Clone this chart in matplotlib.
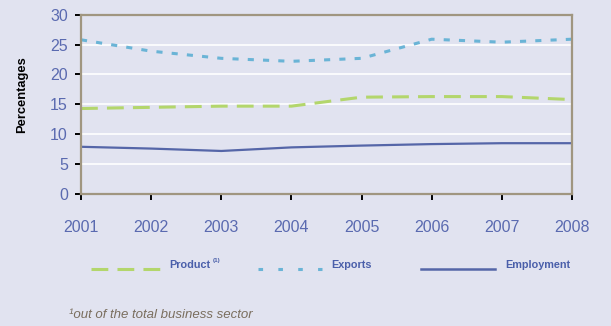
import matplotlib.pyplot as plt
from matplotlib.lines import Line2D
from matplotlib import font_manager

years = [2001, 2002, 2003, 2004, 2005, 2006, 2007, 2008]
product = [14.3, 14.5, 14.7, 14.7, 16.2, 16.3, 16.3, 15.8]
exports = [25.8, 23.9, 22.7, 22.2, 22.7, 25.9, 25.4, 25.9]
employment = [7.9, 7.6, 7.2, 7.8, 8.1, 8.35, 8.5, 8.5]
yticks = [0, 5, 10, 15, 20, 25, 30]

bg = '#E1E3F0'
c_prod = '#B3D66C'
c_exp = '#6AB4D6'
c_emp = '#5566A8'
c_tick = '#5A6AB0'
c_leg = '#4A5FAA'

names = {f.name for f in font_manager.fontManager.ttflist}
narrow = 'Liberation Sans Narrow' if 'Liberation Sans Narrow' in names else 'Liberation Sans'
plt.rcParams['font.family'] = [narrow, 'DejaVu Sans']
bold = ['Liberation Sans', 'DejaVu Sans']

W, H = 611, 326
fig = plt.figure(figsize=(W / 100, H / 100), dpi=100, facecolor=bg)
ax = fig.add_axes([81 / W, 1 - 194 / H, 491 / W, 179.3 / H])
ax.set_facecolor(bg)

ax.plot(years, product, color=c_prod, lw=2.2, dashes=(5.5, 3))
ax.plot(years, exports, color=c_exp, lw=2.2, dashes=(2, 3))
ax.plot(years, employment, color=c_emp, lw=1.6)

ax.set_xlim(2001, 2008)
ax.set_ylim(0, 30)
ax.set_xticks(years)
ax.set_yticks(yticks)
ax.yaxis.grid(True, color='white', lw=1.2)
ax.set_axisbelow(True)
for s in ax.spines.values():
    s.set_color('#A09680')
    s.set_linewidth(1.6)
ax.tick_params(axis='y', colors='black', labelcolor=c_tick, labelsize=11.5,
               length=4.5, width=1.4, direction='out', pad=5)
ax.tick_params(axis='x', colors='black', labelcolor=c_tick, labelsize=11.5,
               length=4.3, width=1.4, direction='out', pad=14.5)
ax.set_ylabel('Percentages', fontsize=9.3, fontweight='bold', family=bold)
ax.yaxis.set_label_coords(-0.107, 0.553)

# legend drawn by hand below the plot
ly = 1 - 269 / H
ty = 1 - 265 / H
fig.add_artist(Line2D([91 / W, 163 / W], [ly, ly], color=c_prod, lw=2.2,
                      dashes=(5.5, 3)))
fig.text(169 / W, ty, 'Product', color=c_leg, fontsize=7.8,
         fontweight='bold', family=bold, va='center')
fig.text(213 / W, ty + 0.014, '(1)', color=c_leg, fontsize=4.5,
         fontweight='bold', family=bold, va='center')
fig.add_artist(Line2D([258 / W, 322 / W], [ly, ly], color=c_exp, lw=2.2,
                      dashes=(1.5, 5)))
fig.text(331 / W, ty, 'Exports', color=c_leg, fontsize=7.8,
         fontweight='bold', family=bold, va='center')
fig.add_artist(Line2D([421 / W, 495 / W], [ly, ly], color=c_emp, lw=1.8))
fig.text(505 / W, ty, 'Employment', color=c_leg, fontsize=7.8,
         fontweight='bold', family=bold, va='center')

fig.text(69 / W, 1 - 315 / H, '\u00b9out of the total business sector',
         color='#7A6E5E', fontsize=9.5, style='italic', va='center')

fig.savefig('out.png', dpi=100, facecolor=bg)
